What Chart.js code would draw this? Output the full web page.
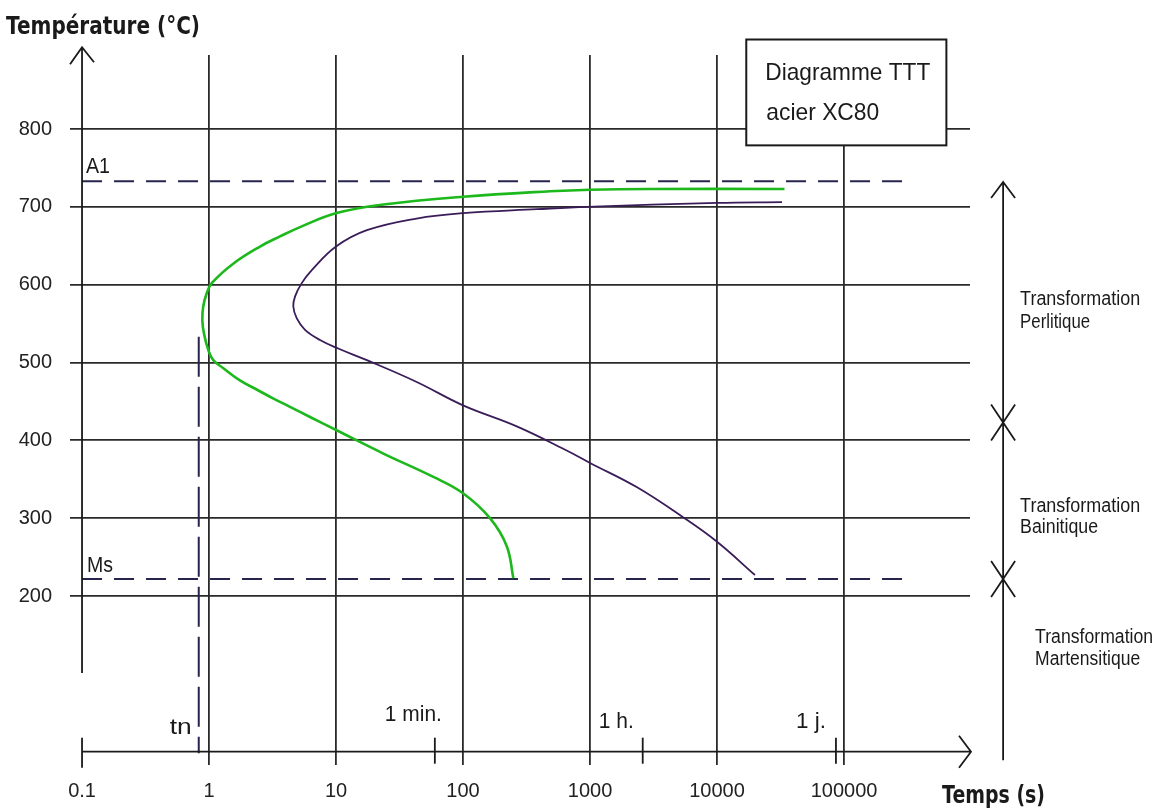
<!DOCTYPE html>
<html>
<head>
<meta charset="utf-8">
<script src="https://cdn.jsdelivr.net/npm/chart.js@4.4.1/dist/chart.umd.min.js"></script>
<style>
  html, body { margin: 0; padding: 0; background: #fff; }
  #wrap { width: 1164px; height: 812px; }
</style>
</head>
<body>
<div id="wrap"><canvas id="ttt" width="1164" height="812"></canvas></div>
<script>
// axe des temps (s), echelle log
const xTicks = [0.1, 1, 10, 100, 1000, 10000, 100000];
const xTickLabels = ['0.1', '1', '10', '100', '1000', '10000', '100000'];
// axe des temperatures (°C)
const yTicks = [200, 300, 400, 500, 600, 700, 800];
const yTickLabels = ['200', '300', '400', '500', '600', '700', '800'];

// debut de transformation (courbe verte)
const debutTemps = [34000, 2950, 1000, 484, 100, 23.6, 10.1, 5.21, 3.62, 2.52, 1.55, 1.05, 0.959, 0.90, 0.886, 0.913, 0.987, 1.08, 1.29, 1.75, 2.39, 3.19, 4.34, 6.24, 10.1, 23.6, 58.4, 100, 163, 221, 249];
const debutTemp = [723, 723, 722, 720, 713, 703, 692, 674, 662, 649, 627, 602, 589, 572, 554, 537, 516, 503, 493, 477, 465, 454, 443, 430, 413, 383, 353, 332, 300, 264, 223];

// fin de transformation (courbe violette)
const finTemps = [32500, 10000, 950, 382, 100, 43, 17.5, 10, 6.47, 5.37, 4.76, 4.61, 4.90, 5.70, 7.48, 10.4, 17.5, 43.2, 100, 265, 655, 1000, 2330, 5430, 9950, 19900];
const finTemp = [706, 705, 700, 697, 692, 685, 670, 649, 619, 602, 585, 572, 557, 542, 529, 518, 503, 475, 445, 418, 387, 371, 340, 301, 270, 227];

// droites caracteristiques
const tempA1 = 733;
const tempMs = 222;
const tempsTn = 0.83;
const tnHaut = 533;
const finDroites = 319000;

// reperes de temps sur l'axe
const repereTemps = [60, 2600, 86400];
const repereLabels = ['1 min.', '1 h.', '1 j.'];

// domaines de transformation (a droite)
const zoneLabels = [['Transformation', 'Perlitique'], ['Transformation', 'Bainitique'], ['Transformation', 'Martensitique']];
const zoneLimites = [423, 222];

const pts = (xs, ys) => xs.map((v, i) => ({ x: v, y: ys[i] }));

const narrow = '"Liberation Sans Narrow", "Liberation Sans", sans-serif';

function drawText(ctx, txt, x, yBase, w, font) {
  ctx.font = font;
  const m = ctx.measureText(txt).width;
  ctx.save();
  ctx.translate(x, yBase);
  ctx.scale(w / m, 1);
  ctx.textAlign = 'left';
  ctx.textBaseline = 'alphabetic';
  ctx.fillText(txt, 0, 0);
  ctx.restore();
}

const decor = {
  id: 'decor',
  afterDraw(chart) {
    const ctx = chart.ctx;
    const sx = chart.scales.x, sy = chart.scales.y;
    const px = v => sx.getPixelForValue(v);
    const py = v => sy.getPixelForValue(v);
    ctx.save();
    ctx.strokeStyle = '#1a1a1a';
    ctx.fillStyle = '#1a1a1a';
    ctx.lineWidth = 1.8;

    // axe des temperatures avec fleche
    const x0 = px(0.1);
    ctx.beginPath();
    ctx.moveTo(x0, py(905));
    ctx.lineTo(x0, py(101));
    ctx.moveTo(x0 - 12, py(905) + 17);
    ctx.lineTo(x0, py(905));
    ctx.lineTo(x0 + 12, py(905) + 15);
    // petit trait 0.1
    ctx.moveTo(x0, py(0) - 14);
    ctx.lineTo(x0, py(0) + 16);
    // axe des temps avec fleche
    const xf = px(1000000);
    ctx.moveTo(x0, py(0));
    ctx.lineTo(xf, py(0));
    ctx.moveTo(xf - 12, py(0) - 16);
    ctx.lineTo(xf, py(0));
    ctx.lineTo(xf - 12, py(0) + 16);
    ctx.stroke();

    // reperes 1 min, 1 h, 1 j
    repereTemps.forEach(t => {
      const x = px(t);
      ctx.beginPath();
      ctx.moveTo(x, py(0) - 14);
      ctx.lineTo(x, py(0) + 12);
      ctx.stroke();
    });
    drawText(ctx, repereLabels[0], px(repereTemps[0]) - 50, py(0) - 31, 57, '22px ' + narrow);
    drawText(ctx, repereLabels[1], px(repereTemps[1]) - 44, py(0) - 24, 35, '22px ' + narrow);
    drawText(ctx, repereLabels[2], px(repereTemps[2]) - 40, py(0) - 24, 30, '22px ' + narrow);

    // noms des droites
    drawText(ctx, 'A1', x0 + 4, py(tempA1) - 8, 24, '22px ' + narrow);
    drawText(ctx, 'Ms', x0 + 5, py(tempMs) - 7, 26, '22px ' + narrow);
    drawText(ctx, 'tn', px(tempsTn) - 29, py(0) - 18, 22, '22px ' + narrow);

    // cadre titre
    const bx1 = px(17000), bx2 = px(640000), by1 = py(915), by2 = py(779);
    ctx.fillStyle = '#fff';
    ctx.fillRect(bx1, by1, bx2 - bx1, by2 - by1);
    ctx.lineWidth = 2;
    ctx.strokeRect(bx1, by1, bx2 - bx1, by2 - by1);
    ctx.fillStyle = '#1a1a1a';
    drawText(ctx, 'Diagramme TTT', bx1 + 19, by1 + 40, 165, '24px ' + narrow);
    drawText(ctx, 'acier XC80', bx1 + 20, by1 + 80, 113, '24px ' + narrow);

    // fleche des domaines a droite
    const xr = px(1790000);
    const top = py(732);
    ctx.lineWidth = 1.8;
    ctx.beginPath();
    ctx.moveTo(xr, top);
    ctx.lineTo(xr, py(-11));
    ctx.moveTo(xr - 12, top + 16);
    ctx.lineTo(xr, top);
    ctx.lineTo(xr + 12, top + 16);
    zoneLimites.forEach(t => {
      const y = py(t);
      ctx.moveTo(xr - 12, y - 18);
      ctx.lineTo(xr + 12, y + 18);
      ctx.moveTo(xr + 12, y - 18);
      ctx.lineTo(xr - 12, y + 18);
    });
    ctx.stroke();

    const zf = '20px ' + narrow;
    drawText(ctx, zoneLabels[0][0], xr + 17, 305, 120, zf);
    drawText(ctx, zoneLabels[0][1], xr + 17, 328, 70, zf);
    drawText(ctx, zoneLabels[1][0], xr + 17, 512, 120, zf);
    drawText(ctx, zoneLabels[1][1], xr + 17, 533, 78, zf);
    drawText(ctx, zoneLabels[2][0], xr + 32, 643, 118, zf);
    drawText(ctx, zoneLabels[2][1], xr + 32, 665, 105, zf);

    // titres des axes
    drawText(ctx, 'Température (°C)', 6, 34, 194, 'bold 24px "DejaVu Sans"');
    drawText(ctx, 'Temps (s)', 942, 803, 103, 'bold 24px "DejaVu Sans"');
    ctx.restore();
  }
};

const dash = '#26264c';

new Chart(document.getElementById('ttt'), {
  type: 'line',
  data: {
    datasets: [
      {
        label: 'debut',
        data: pts(debutTemps, debutTemp),
        borderColor: 'rgb(28, 184, 28)',
        borderWidth: 2.6,
        tension: 0.4,
        pointRadius: 0
      },
      {
        label: 'fin',
        data: pts(finTemps, finTemp),
        borderColor: 'rgb(58, 28, 88)',
        borderWidth: 1.8,
        tension: 0.4,
        pointRadius: 0
      },
      {
        label: 'A1',
        data: [{ x: 0.1, y: tempA1 }, { x: finDroites, y: tempA1 }],
        borderColor: dash,
        borderWidth: 2,
        borderDash: [20, 12],
        pointRadius: 0
      },
      {
        label: 'Ms',
        data: [{ x: 0.1, y: tempMs }, { x: finDroites, y: tempMs }],
        borderColor: dash,
        borderWidth: 2,
        borderDash: [20, 12],
        pointRadius: 0
      },
      {
        label: 'tn',
        data: [{ x: tempsTn, y: tnHaut }, { x: tempsTn, y: -2 }],
        borderColor: dash,
        borderWidth: 2,
        borderDash: [40, 10],
        pointRadius: 0
      }
    ]
  },
  options: {
    responsive: false,
    animation: false,
    layout: { padding: { top: 55, right: 194, bottom: 0, left: 0 } },
    plugins: { legend: { display: false }, tooltip: { enabled: false } },
    scales: {
      x: {
        type: 'logarithmic',
        min: 0.0804,
        max: 982000,
        afterBuildTicks: s => { s.ticks = xTicks.map(v => ({ value: v })); },
        afterFit: s => { s.height = 47; },
        border: { display: false },
        grid: {
          drawTicks: false,
          lineWidth: 1.8,
          color: c => (c.tick && c.tick.value < 0.5 ? 'rgba(0,0,0,0)' : '#2a2a2a')
        },
        ticks: {
          autoSkip: false,
          maxRotation: 0,
          padding: 14,
          color: '#222',
          font: { family: narrow, size: 20 },
          callback: (v, i) => xTickLabels[i]
        }
      },
      y: {
        type: 'linear',
        min: -17.1,
        max: 895.1,
        afterBuildTicks: s => { s.ticks = yTicks.map(v => ({ value: v })); },
        afterFit: s => { s.width = 70; },
        border: { display: false },
        grid: { drawTicks: false, lineWidth: 1.8, color: '#2a2a2a' },
        ticks: {
          padding: 18,
          color: '#222',
          font: { family: narrow, size: 20 },
          callback: (v, i) => yTickLabels[i]
        }
      }
    }
  },
  plugins: [decor]
});
</script>
</body>
</html>
